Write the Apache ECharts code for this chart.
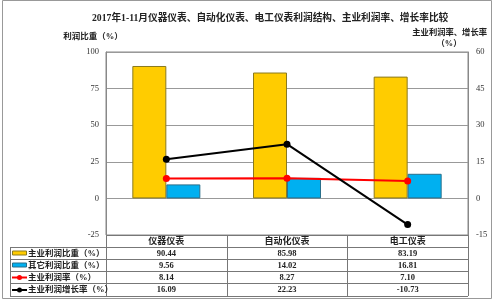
<!DOCTYPE html>
<html><head><meta charset="utf-8">
<script src="https://cdn.jsdelivr.net/npm/echarts@6/dist/echarts.min.js"></script>
<style>html,body{margin:0;padding:0;background:#fff}#c{width:494px;height:299px}</style>
</head><body><div id="c"></div>
<script>
const categories = ['仪器仪表', '自动化仪表', '电工仪表'];
const mainShare = [90.44, 85.98, 83.19];
const otherShare = [9.56, 14.02, 16.81];
const mainRate = [8.14, 8.27, 7.10];
const mainGrowth = [16.09, 22.23, -10.73];
const seriesNames = ['主业利润比重（%）', '其它利润比重（%）', '主业利润率（%）', '主业利润增长率（%）'];
const seriesColors = ['#FFCC00', '#00B0F0', '#FF0000', '#000000'];
const leftTicks = [-25, 0, 25, 50, 75, 100];
const rightTicks = [-15, 0, 15, 30, 45, 60];

const FONT = '"Liberation Serif","Noto Sans CJK SC",serif';
const G = {left: 106, right: 26, top: 52, bottom: 64};
const W = 494, H = 299;
const chart = echarts.init(document.getElementById('c'), null, {renderer: 'canvas'});
const rowLines = [235, 247, 259, 271, 283, 296];
const tableLeft = 10, plotL = G.left, plotR = W - G.right;

const option = {
  animation: false,
  backgroundColor: '#fff',
  textStyle: {fontFamily: FONT},
  title: {
    text: '2017年1-11月仪器仪表、自动化仪表、电工仪表利润结构、主业利润率、增长率比较',
    left: 87, top: 9,
    textStyle: {fontSize: 9.7, fontWeight: 'bold', color: '#222', fontFamily: FONT}
  },
  grid: {left: G.left, right: G.right, top: G.top, bottom: G.bottom, show: true, borderColor: '#888', borderWidth: 1},
  legend: {show: false, data: seriesNames},
  xAxis: {
    type: 'category', data: categories,
    axisLine: {show: false}, axisTick: {show: false}, axisLabel: {show: false}
  },
  yAxis: [{
    type: 'value', min: leftTicks[0], max: leftTicks[leftTicks.length - 1], interval: 25,
    axisLine: {show: true, lineStyle: {color: '#888'}}, axisTick: {show: false},
    axisLabel: {fontSize: 8.5, color: '#333', margin: 7},
    splitLine: {show: true, lineStyle: {color: '#999', width: 1}}
  }, {
    type: 'value', min: rightTicks[0], max: rightTicks[rightTicks.length - 1], interval: 15,
    axisLine: {show: true, lineStyle: {color: '#888'}}, axisTick: {show: false},
    axisLabel: {fontSize: 8.5, color: '#333', margin: 8},
    splitLine: {show: false}
  }],
  series: [{
    name: seriesNames[0], type: 'bar', data: mainShare, barWidth: 34, barGap: '0%',
    itemStyle: {color: seriesColors[0], borderColor: '#8a7a20', borderWidth: 1}
  }, {
    name: seriesNames[1], type: 'bar', data: otherShare, barWidth: 34, barGap: '0%',
    itemStyle: {color: seriesColors[1], borderColor: '#2a6f8a', borderWidth: 1}
  }, {
    name: seriesNames[2], type: 'line', yAxisIndex: 1, data: mainRate,
    symbol: 'circle', symbolSize: 7, lineStyle: {color: seriesColors[2], width: 2}, itemStyle: {color: seriesColors[2]}
  }, {
    name: seriesNames[3], type: 'line', yAxisIndex: 1, data: mainGrowth,
    symbol: 'circle', symbolSize: 7, lineStyle: {color: seriesColors[3], width: 2}, itemStyle: {color: seriesColors[3]}
  }]
};
chart.setOption(option);

const els = [];
const lineStyle = {stroke: '#777', lineWidth: 1};
const txt = (x, y, t, size, align) => ({type: 'text', x, y,
  style: {text: t, align: align || 'center', verticalAlign: 'middle', font: 'bold ' + size + 'px ' + FONT, fill: '#222'}});
// outer frame
els.push({type: 'rect', shape: {x: 2.5, y: 0.5, width: W - 5, height: H - 1}, style: {fill: null, stroke: '#999', lineWidth: 1}, silent: true});
// axis names
els.push(txt(93, 37, '利润比重（%）', 8.5));
els.push(txt(487, 33, '主业利润率、增长率', 8.3, 'right'));
els.push(txt(449, 44, '（%）', 8.3));
// table grid
els.push({type: 'line', shape: {x1: plotL, y1: rowLines[0] + 0.5, x2: plotR, y2: rowLines[0] + 0.5}, style: lineStyle});
for (let i = 1; i < rowLines.length; i++) {
  els.push({type: 'line', shape: {x1: tableLeft, y1: rowLines[i] + 0.5, x2: plotR, y2: rowLines[i] + 0.5}, style: lineStyle});
}
els.push({type: 'line', shape: {x1: tableLeft + 0.5, y1: rowLines[1], x2: tableLeft + 0.5, y2: rowLines[5]}, style: lineStyle});
const colW = (plotR - plotL) / categories.length;
for (let j = 0; j <= categories.length; j++) {
  const x = Math.round(plotL + j * colW) + 0.5;
  els.push({type: 'line', shape: {x1: x, y1: rowLines[0], x2: x, y2: rowLines[5]}, style: lineStyle});
}
const rows = [mainShare, otherShare, mainRate, mainGrowth];
categories.forEach((c, j) => {
  const cx = chart.convertToPixel({xAxisIndex: 0}, c);
  els.push(txt(cx, (rowLines[0] + rowLines[1]) / 2 + 0.5, c, 9));
  rows.forEach((r, i) => {
    els.push(txt(cx, (rowLines[i + 1] + rowLines[i + 2]) / 2 + 0.5, r[j].toFixed(2), 8.5));
  });
});
// legend column
seriesNames.forEach((n, i) => {
  const cy = (rowLines[i + 1] + rowLines[i + 2]) / 2 + 0.5;
  if (i < 2) {
    els.push({type: 'rect', shape: {x: 12.5, y: cy - 2.5, width: 14, height: 4},
      style: {fill: seriesColors[i], stroke: i === 0 ? '#8a7a20' : '#2a6f8a', lineWidth: 1}});
  } else {
    els.push({type: 'line', shape: {x1: 12, y1: cy, x2: 27, y2: cy}, style: {stroke: seriesColors[i], lineWidth: 2}});
    els.push({type: 'circle', shape: {cx: 19.5, cy: cy, r: 2.5}, style: {fill: seriesColors[i]}});
  }
  els.push(txt(28, cy, n, 8.5, 'left'));
});
chart.setOption({graphic: {elements: els}});
</script></body></html>
